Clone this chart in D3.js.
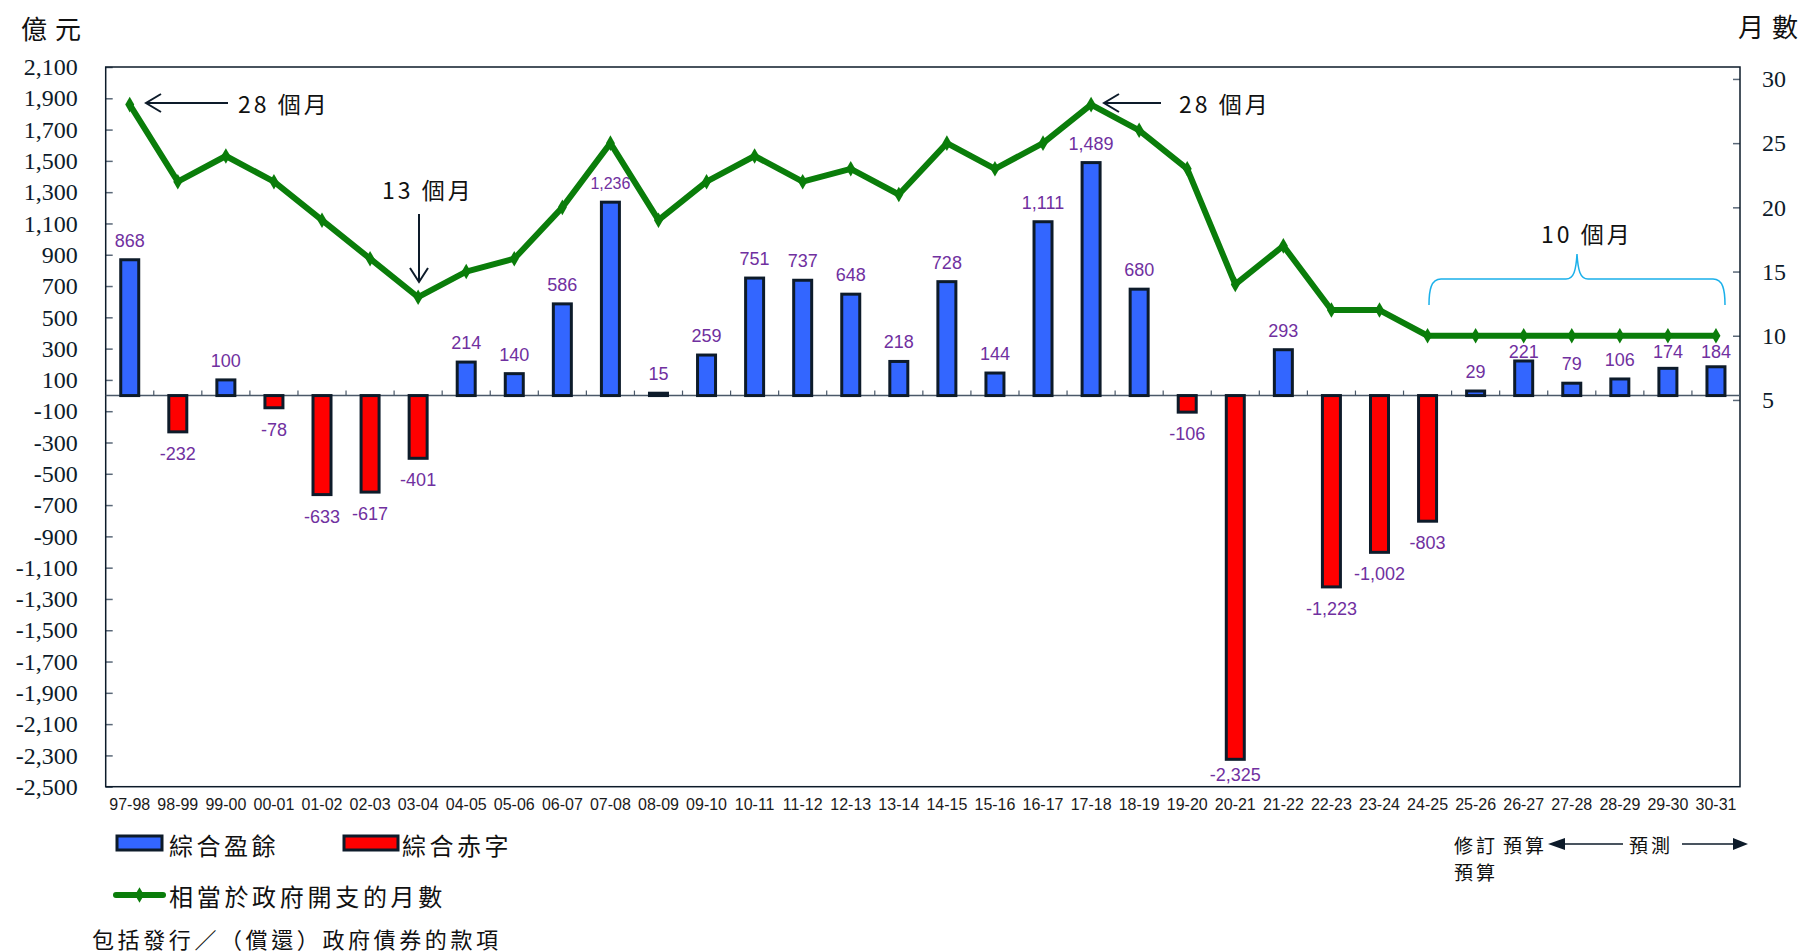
<!DOCTYPE html>
<html>
  <head>
    <meta charset="utf-8">
    <script src="https://cdn.jsdelivr.net/npm/d3@7"></script>
    <style>
      body { margin: 0; background: #fff; }
    </style>
  </head>
  <body>
    <div id="chart"></div>
    <script>
      // fiscal years
      const years = [
        "97-98", "98-99", "99-00", "00-01", "01-02", "02-03", "03-04", "04-05",
        "05-06", "06-07", "07-08", "08-09", "09-10", "10-11", "11-12", "12-13",
        "13-14", "14-15", "15-16", "16-17", "17-18", "18-19", "19-20", "20-21",
        "21-22", "22-23", "23-24", "24-25", "25-26", "26-27", "27-28", "28-29",
        "29-30", "30-31",
      ];
      // consolidated surplus / deficit (HK$ 100 million)
      const balance = [
        868, -232, 100, -78, -633, -617, -401, 214, 140, 586, 1236, 15, 259, 751,
        737, 648, 218, 728, 144, 1111, 1489, 680, -106, -2325, 293, -1223, -1002,
        -803, 29, 221, 79, 106, 174, 184,
      ];
      // reserves in months of government expenditure
      const months = [
        28, 22, 24, 22, 19, 16, 13, 15, 16, 20, 25, 19, 22, 24, 22, 23, 21, 25,
        23, 25, 28, 26, 23, 14, 17, 12, 12, 10, 10, 10, 10, 10, 10, 10,
      ];
      const leftTicks = d3.range(-2500, 2101, 200);
      const rightTicks = [5, 10, 15, 20, 25, 30];

      const width = 1801;
      const height = 951;
      const plot = { left: 105.7, top: 67, right: 1740, bottom: 786.7 };
      const cjk = "'Noto Sans CJK TC', sans-serif";
      const navy = "#0d1b2a";
      const purple = "#7030A0";
      const green = "#0a7d0a";

      // plain hyphen for negatives, like the original
      const fmt = d3.formatLocale({ decimal: ".", thousands: ",", grouping: [3], currency: ["", ""], minus: "-" }).format(",");

      const svg = d3
        .select("#chart")
        .append("svg")
        .attr("width", width)
        .attr("height", height);

      const x = d3.scaleBand().domain(years).range([plot.left, plot.right]);
      const y = d3.scaleLinear().domain([-2500, 2100]).range([plot.bottom, plot.top]);
      const y2 = d3.scaleLinear().domain([-25.12, 30.93]).range([plot.bottom, plot.top]);
      const cx = (i) => x(years[i]) + x.bandwidth() / 2;

      // left axis
      const gl = svg
        .append("g")
        .attr("transform", `translate(${plot.left},0)`)
        .call(d3.axisLeft(y).tickValues(leftTicks).tickFormat(fmt).tickSize(-7).tickPadding(28));
      gl.select(".domain").remove();
      gl.selectAll("line").attr("stroke", "#5a6878").attr("stroke-width", 1.5);
      gl.selectAll("text")
        .attr("font-family", "'Liberation Serif', serif")
        .attr("font-size", 24)
        .attr("fill", navy);

      // right axis
      const gr = svg
        .append("g")
        .attr("transform", `translate(${plot.right},0)`)
        .call(d3.axisRight(y2).tickValues(rightTicks).tickSize(-7).tickPadding(22));
      gr.select(".domain").remove();
      gr.selectAll("line").attr("stroke", "#5a6878").attr("stroke-width", 1.5);
      gr.selectAll("text")
        .attr("font-family", "'Liberation Serif', serif")
        .attr("font-size", 24)
        .attr("fill", navy);

      // category labels
      const gb = svg
        .append("g")
        .attr("transform", `translate(0,${plot.bottom})`)
        .call(d3.axisBottom(x).tickSize(0).tickPadding(12));
      gb.select(".domain").remove();
      gb.selectAll("text")
        .attr("font-family", "'Liberation Sans', Arial, sans-serif")
        .attr("font-size", 16)
        .attr("fill", "#1a1a1a");

      // plot frame
      svg
        .append("rect")
        .attr("x", plot.left)
        .attr("y", plot.top)
        .attr("width", plot.right - plot.left)
        .attr("height", plot.bottom - plot.top)
        .attr("fill", "none")
        .attr("stroke", navy)
        .attr("stroke-width", 1.5);

      // zero line with category ticks
      const y0 = y(0);
      svg
        .append("line")
        .attr("x1", plot.left)
        .attr("x2", plot.right)
        .attr("y1", y0)
        .attr("y2", y0)
        .attr("stroke", "#4a5868")
        .attr("stroke-width", 1.5);
      svg
        .append("g")
        .selectAll("line")
        .data(years.slice(1))
        .enter()
        .append("line")
        .attr("x1", (d) => x(d))
        .attr("x2", (d) => x(d))
        .attr("y1", y0)
        .attr("y2", y0 - 5)
        .attr("stroke", "#4a5868")
        .attr("stroke-width", 1.2);

      // bars
      const barW = 18;
      svg
        .append("g")
        .selectAll("rect")
        .data(balance)
        .enter()
        .append("rect")
        .attr("x", (d, i) => cx(i) - barW / 2)
        .attr("y", (d) => (d >= 0 ? y(d) : y0))
        .attr("width", barW)
        .attr("height", (d) => Math.abs(y(d) - y0))
        .attr("fill", (d) => (d >= 0 ? "#3366ff" : "#ff0000"))
        .attr("stroke", navy)
        .attr("stroke-width", 3);

      // value labels: above positive bars, below negative ones,
      // nudged down when the months line runs through them
      svg
        .append("g")
        .selectAll("text")
        .data(balance)
        .enter()
        .append("text")
        .attr("x", (d, i) => cx(i))
        .attr("y", (d, i) =>
          d >= 0 ? Math.max(y(d) - 13, y2(months[i]) + 22) : Math.min(y(d) + 28, 781)
        )
        .attr("text-anchor", "middle")
        .attr("font-family", "'Liberation Sans', Arial, sans-serif")
        .attr("font-size", (d) => (d === 1236 ? 16 : 18))
        .attr("fill", purple)
        .text((d) => fmt(d));

      // months line
      const line = d3
        .line()
        .x((d, i) => cx(i))
        .y((d) => y2(d));
      svg
        .append("path")
        .datum(months)
        .attr("d", line)
        .attr("fill", "none")
        .attr("stroke", green)
        .attr("stroke-width", 6)
        .attr("stroke-linejoin", "round");
      svg
        .append("g")
        .selectAll("path")
        .data(months)
        .enter()
        .append("path")
        .attr("d", d3.symbol(d3.symbolDiamond, 70))
        .attr("transform", (d, i) => `translate(${cx(i)},${y2(d)})`)
        .attr("fill", green);

      // axis titles (one glyph each so the spacing stays inside the page)
      function title(chars, x0, ty) {
        chars.forEach((c, i) => {
          svg
            .append("text")
            .attr("x", x0 + i * 34)
            .attr("y", ty)
            .attr("font-family", cjk)
            .attr("font-size", 26)
            .attr("dominant-baseline", "central")
            .attr("fill", "#111")
            .text(c);
        });
      }
      title(["億", "元"], 21, 27);
      title(["月", "數"], 1738, 25);

      // annotations
      function note(txt, tx, ty) {
        svg
          .append("text")
          .attr("x", tx)
          .attr("y", ty)
          .attr("font-family", cjk)
          .attr("font-size", 23)
          .attr("letter-spacing", 3)
          .attr("dominant-baseline", "central")
          .attr("fill", "#111")
          .text(txt);
      }
      function arrowOpen(pts) {
        svg
          .append("path")
          .attr("d", d3.line()(pts))
          .attr("fill", "none")
          .attr("stroke", navy)
          .attr("stroke-width", 2);
      }

      note("28 個月", 238, 103);
      arrowOpen([[228, 103], [146, 103]]);
      arrowOpen([[161, 94], [146, 103], [161, 112]]);

      note("28 個月", 1179, 103);
      arrowOpen([[1161, 103], [1104, 103]]);
      arrowOpen([[1119, 94], [1104, 103], [1119, 112]]);

      note("13 個月", 382, 189);
      arrowOpen([[419, 214], [419, 282]]);
      arrowOpen([[410, 268], [419, 282], [428, 268]]);

      note("10 個月", 1541, 233);
      svg
        .append("path")
        .attr(
          "d",
          "M1429,305 C1429,290 1431,279 1441,279 L1566,279 C1574,279 1576,270 1577,254 " +
            "C1578,270 1580,279 1588,279 L1713,279 C1723,279 1725,290 1725,305"
        )
        .attr("fill", "none")
        .attr("stroke", "#1ab0ea")
        .attr("stroke-width", 1.5);

      // legend
      const leg = [
        { label: "綜合盈餘", fill: "#3366ff", sx: 117, sw: 45, tx: 169 },
        { label: "綜合赤字", fill: "#ff0000", sx: 344, sw: 54, tx: 402 },
      ];
      leg.forEach((d) => {
        svg
          .append("rect")
          .attr("x", d.sx)
          .attr("y", 836)
          .attr("width", d.sw)
          .attr("height", 14)
          .attr("fill", d.fill)
          .attr("stroke", navy)
          .attr("stroke-width", 3);
        svg
          .append("text")
          .attr("x", d.tx)
          .attr("y", 844)
          .attr("font-family", cjk)
          .attr("font-size", 24)
          .attr("letter-spacing", 3.5)
          .attr("dominant-baseline", "central")
          .attr("fill", "#111")
          .text(d.label);
      });
      svg
        .append("line")
        .attr("x1", 116)
        .attr("x2", 163)
        .attr("y1", 895)
        .attr("y2", 895)
        .attr("stroke", green)
        .attr("stroke-width", 6)
        .attr("stroke-linecap", "round");
      svg
        .append("path")
        .attr("d", d3.symbol(d3.symbolDiamond, 70))
        .attr("transform", "translate(139.5,895)")
        .attr("fill", green);
      svg
        .append("text")
        .attr("x", 169)
        .attr("y", 895)
        .attr("font-family", cjk)
        .attr("font-size", 24)
        .attr("letter-spacing", 3.7)
        .attr("dominant-baseline", "central")
        .attr("fill", "#111")
        .text("相當於政府開支的月數");

      svg
        .append("text")
        .attr("x", 92)
        .attr("y", 938)
        .attr("font-family", cjk)
        .attr("font-size", 22)
        .attr("letter-spacing", 3.6)
        .attr("dominant-baseline", "central")
        .attr("fill", "#111")
        .text("包括發行／（償還）政府債券的款項");

      // budget / forecast notes
      function small(txt, tx, ty) {
        svg
          .append("text")
          .attr("x", tx)
          .attr("y", ty)
          .attr("font-family", cjk)
          .attr("font-size", 19)
          .attr("letter-spacing", 3)
          .attr("dominant-baseline", "central")
          .attr("fill", "#111")
          .text(txt);
      }
      small("修訂", 1454, 844);
      small("預算", 1454, 871);
      small("預算", 1503, 844);
      small("預測", 1629, 844);

      svg
        .append("line")
        .attr("x1", 1562)
        .attr("x2", 1623)
        .attr("y1", 844)
        .attr("y2", 844)
        .attr("stroke", navy)
        .attr("stroke-width", 1.5);
      svg
        .append("path")
        .attr("d", "M1548,844 L1565,838 L1565,850 Z")
        .attr("fill", navy);
      svg
        .append("line")
        .attr("x1", 1682)
        .attr("x2", 1738)
        .attr("y1", 844)
        .attr("y2", 844)
        .attr("stroke", navy)
        .attr("stroke-width", 1.5);
      svg
        .append("path")
        .attr("d", "M1748,844 L1733,838 L1733,850 Z")
        .attr("fill", navy);
    </script>
  </body>
</html>
